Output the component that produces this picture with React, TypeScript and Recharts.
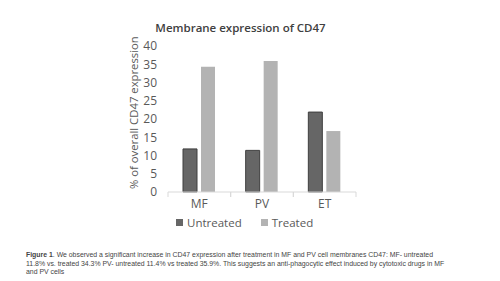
import { BarChart, Bar, XAxis, YAxis, Legend } from "recharts";

const categories = ["MF", "PV", "ET"];
const untreated = [11.8, 11.4, 21.9];
const treated = [34.3, 35.9, 16.7];
const yTicks = [0, 5, 10, 15, 20, 25, 30, 35, 40];
const seriesOrder = ["Untreated", "Treated"];

const data = categories.map((name, i) => ({
    name,
    Untreated: untreated[i],
    Treated: treated[i],
}));

const GREY_TEXT = "#595959";
const FONT = "'Open Sans', sans-serif";
const BAND = 188 / categories.length;

function CategoryTick(props: any) {
    const { x, y, payload } = props;
    return (
        <g>
            <line x1={x - BAND / 2} x2={x - BAND / 2} y1={y - 8} y2={y - 3} stroke="#d9d9d9" />
            <line x1={x + BAND / 2} x2={x + BAND / 2} y1={y - 8} y2={y - 3} stroke="#d9d9d9" />
            <text x={x} y={y + 8} textAnchor="middle" fill={GREY_TEXT} fontSize={12} fontFamily={FONT}>
                {payload.value}
            </text>
        </g>
    );
}

function LegendContent(props: any) {
    const payload = [...(props.payload || [])].sort(
        (a: any, b: any) => seriesOrder.indexOf(a.value) - seriesOrder.indexOf(b.value)
    );
    return (
        <div style={{ display: "flex", fontFamily: FONT, fontSize: 11.5, color: GREY_TEXT }}>
            {payload.map((p: any) => (
                <div key={p.value} style={{ display: "flex", alignItems: "center", marginRight: 19 }}>
                    <span style={{ width: 7, height: 7, background: p.color, marginRight: 4, display: "inline-block" }} />
                    {p.value}
                </div>
            ))}
        </div>
    );
}

export default function App() {
    return (
        <div style={{ position: "absolute", left: 0, top: 0, width: 500, height: 281, background: "#fff" }}>
            <div
                style={{
                    position: "absolute",
                    top: 20,
                    left: 0,
                    width: 481,
                    textAlign: "center",
                    fontFamily: FONT,
                    fontSize: 11.5,
                    fontWeight: 600,
                    color: "#404040",
                }}
            >
                Membrane expression of CD47
            </div>
            <BarChart
                width={500}
                height={281}
                data={data}
                margin={{ top: 46, right: 144, bottom: 59, left: 128 }}
                barGap={4}
                barSize={14}
            >
                <XAxis
                    dataKey="name"
                    axisLine={{ stroke: "#d9d9d9" }}
                    tickLine={false}
                    tick={<CategoryTick />}
                    interval={0}
                    height={30}
                />
                <YAxis
                    width={40}
                    domain={[0, 40]}
                    ticks={yTicks}
                    interval={0}
                    axisLine={false}
                    tickLine={false}
                    tickMargin={5}
                    tick={{ fill: GREY_TEXT, fontSize: 12, fontFamily: FONT }}
                    label={{
                        value: "% of overall CD47 expression",
                        angle: -90,
                        position: "insideLeft",
                        dx: 1,
                        dy: 70,
                        fill: GREY_TEXT,
                        fontSize: 11.3,
                        fontFamily: FONT,
                    }}
                />
                <Bar dataKey="Untreated" fill="#666666" stroke="#3f3f3f" strokeWidth={1} isAnimationActive={false} />
                <Bar dataKey="Treated" fill="#b3b3b3" isAnimationActive={false} />
                <Legend
                    layout="horizontal"
                    verticalAlign="middle"
                    align="center"
                    content={<LegendContent />}
                    wrapperStyle={{ position: "absolute", left: 176, top: 215, width: 200 }}
                />
            </BarChart>
            <div
                style={{
                    position: "absolute",
                    left: 26,
                    top: 251,
                    fontFamily: "'Liberation Sans', Arial, sans-serif",
                    fontSize: 6.9,
                    lineHeight: "8.7px",
                    color: "#444",
                    whiteSpace: "nowrap",
                }}
            >
                <div>
                    <b>Figure 1</b>. We observed a significant increase in CD47 expression after treatment in MF and PV cell membranes CD47: MF- untreated
                </div>
                <div>
                    11.8% vs. treated 34.3% PV- untreated 11.4% vs treated 35.9%. This suggests an anti-phagocytic effect induced by cytotoxic drugs in MF
                </div>
                <div>and PV cells</div>
            </div>
        </div>
    );
}
